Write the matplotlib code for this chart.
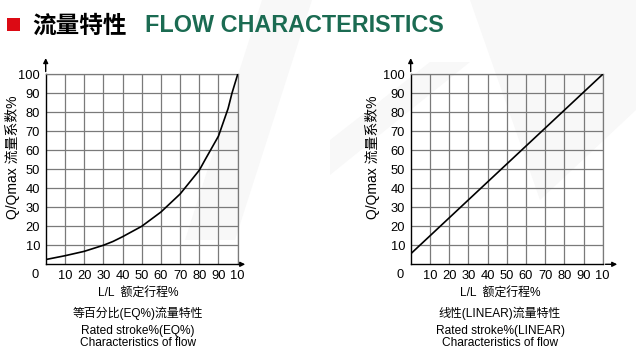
import matplotlib
matplotlib.use("Agg")
import matplotlib.pyplot as plt
from matplotlib.patches import Polygon, Rectangle

plt.rcParams['font.family'] = ['Liberation Sans', 'Noto Sans CJK SC', 'DejaVu Sans']

# ── data ─────────────────────────────────────────────────────────────────
stroke_eq = [0, 10, 20, 30, 35, 40, 50, 60, 70, 80, 83, 90, 95, 97, 100]
flow_eq = [2.5, 4.5, 6.8, 10, 12, 14.5, 20, 27.5, 37, 49.5, 55, 67.5, 82, 90, 100]

stroke_lin = [0, 100]
flow_lin = [5.5, 100]

ticks = [10, 20, 30, 40, 50, 60, 70, 80, 90, 100]
xtick_labels = ["10", "20", "30", "40", "50", "60", "70", "80", "90", "10"]
ytick_labels = ["10", "20", "30", "40", "50", "60", "70", "80", "90", "100"]

W, H = 636, 359
fig = plt.figure(figsize=(W / 100, H / 100), dpi=100)
fig.patch.set_facecolor("white")


def px(x, y):
    return (x / W, 1 - y / H)


# very faint watermark in the background
for pts in ([(262, 0), (312, 0), (235, 240), (185, 240)],
            [(330, 140), (430, 62), (470, 62), (330, 175)],
            [(470, 0), (636, 0), (636, 110), (540, 200)]):
    fig.patches.append(Polygon([px(*p) for p in pts], closed=True,
                               transform=fig.transFigure, facecolor="#f8f8f8",
                               edgecolor="none", zorder=-10))

# title
fig.patches.append(Rectangle(px(7, 31), 13 / W, 13 / H, transform=fig.transFigure,
                             facecolor="#dc0a14", edgecolor="none"))
fig.text(32 / W, 1 - 26 / H, "流量特性", fontsize=17, fontweight="heavy",
         family=["Noto Sans CJK SC"], color="black", va="center", ha="left")
fig.text(145 / W, 1 - 25 / H, "FLOW CHARACTERISTICS", fontsize=16.8, fontweight="bold",
         family=["Liberation Sans"], color="#1b6b52", va="center", ha="left")


def panel(left, x_arrow, xs, ys, label_cx, ylab_x, captions):
    ax = fig.add_axes([left / W, 1 - 264.3 / H, 192 / W, 190 / H])
    ax.set_xlim(0, 100)
    ax.set_ylim(0, 100)
    ax.set_facecolor("none")
    ax.set_xticks(ticks)
    ax.set_yticks(ticks)
    ax.set_xticklabels(xtick_labels, fontsize=9.3)
    ax.set_yticklabels(ytick_labels, fontsize=9.3)
    ax.tick_params(length=0, pad=4)
    ax.grid(True, color="#7a7a7a", linewidth=0.9)
    for s in ("top", "right"):
        ax.spines[s].set_color("#7a7a7a")
        ax.spines[s].set_linewidth(0.9)
    for s in ("left", "bottom"):
        ax.spines[s].set_color("black")
        ax.spines[s].set_linewidth(1.0)
    ax.plot(xs, ys, color="black", linewidth=1.2, zorder=5)

    ax.annotate("", xy=(0, 1.1), xytext=(0, 1.0), xycoords="axes fraction",
                arrowprops=dict(arrowstyle="-|>", color="black", lw=1,
                                mutation_scale=7), annotation_clip=False)
    ax.annotate("", xy=((x_arrow - left) / 192, 0), xytext=(1.0, 0),
                xycoords="axes fraction",
                arrowprops=dict(arrowstyle="-|>", color="black", lw=1,
                                mutation_scale=7), annotation_clip=False)
    ax.text(-0.055, -0.058, "0", transform=ax.transAxes, fontsize=9.3,
            ha="center", va="center")
    ax.set_ylabel("Q/Qmax 流量系数%", fontsize=10, va="center")
    ax.yaxis.set_label_coords((ylab_x - left) / 192, 0.565)

    fig.text(label_cx / W, 1 - 293 / H, "L/L  额定行程%", fontsize=8.6,
             ha="center", va="center")
    fig.text(label_cx / W, 1 - 313 / H, captions[0], fontsize=8.6,
             ha="center", va="center")
    fig.text(label_cx / W, 1 - 337 / H, captions[1] + "\n" + captions[2],
             fontsize=8.6, ha="center", va="center", linespacing=0.95)
    return ax


panel(45.7, 248, stroke_eq, flow_eq, 138, 13,
      ["等百分比(EQ%)流量特性", "Rated stroke%(EQ%)", "Characteristics of flow"])
panel(410.7, 620, stroke_lin, flow_lin, 500, 373,
      ["线性(LINEAR)流量特性", "Rated stroke%(LINEAR)", "Characteristics of flow"])

fig.savefig("out.png", dpi=100)
